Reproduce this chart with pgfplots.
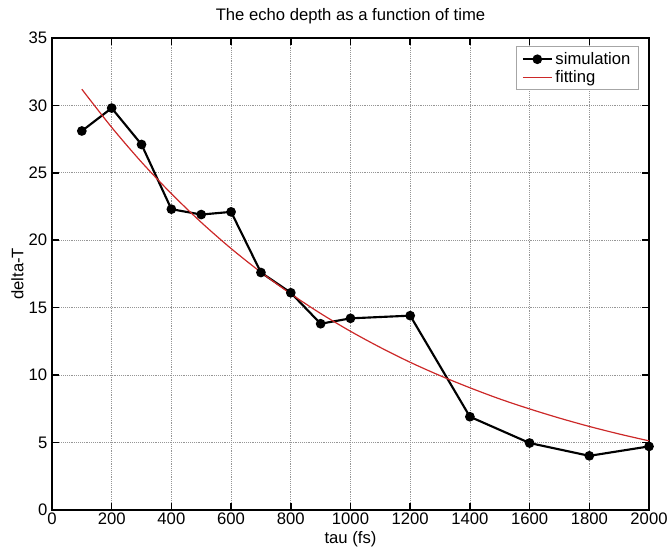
\documentclass[border=0pt]{standalone}
\usepackage{pgfplots}
\pgfplotsset{compat=1.18}
\usepackage{fontspec}
\setmainfont{Liberation Sans}

\definecolor{fitRed}{RGB}{204,40,40}
\definecolor{gridGray}{RGB}{150,150,150}

\begin{document}
\begin{tikzpicture}
% picture frame: 667 x 551 px at 0.75pt per px
\useasboundingbox (-39pt,-30.75pt) rectangle (461.5pt,382.5pt);

\begin{axis}[
    at={(0pt,0pt)}, anchor=south west,
    scale only axis,
    width=448pt, height=354pt,
    xmin=0, xmax=2000,
    ymin=0, ymax=35,
    xtick={0,200,...,2000},
    ytick={0,5,...,35},
    font=\fontsize{12.5}{14}\selectfont,
    /pgf/number format/assume math mode=true,
    /pgf/number format/1000 sep={},
    title={The echo depth as a function of time},
    title style={yshift=1pt},
    xlabel={tau (fs)},
    ylabel={delta-T},
    xlabel style={yshift=2pt},
    ylabel style={yshift=-3pt},
    axis line style={line width=1.5pt, black},
    tick align=inside,
    tick style={line width=1.2pt, black},
    major tick length=5pt,
    xticklabel style={yshift=1pt},
    grid=major,
    grid style={densely dotted, gridGray, line width=0.5pt},
    legend style={
        at={(0.983,0.982)}, anchor=north east,
        draw=gray!70, line width=0.6pt,
        font=\fontsize{12.5}{14}\selectfont,
        cells={anchor=west},
        row sep=-1pt,
        inner xsep=4pt,
    },
    legend image code/.code={
        \draw[mark repeat=2, mark phase=2]
            plot coordinates {(0cm,0cm) (0.38cm,0cm) (0.76cm,0cm)};
    },
    legend cell align=left,
]

% simulation
\addplot[black, line width=1.6pt, mark=*, mark size=2.8pt] coordinates {
    (100,28.1) (200,29.8) (300,27.1) (400,22.3) (500,21.9) (600,22.1)
    (700,17.6) (800,16.1) (900,13.8) (1000,14.2) (1200,14.4)
    (1400,6.9) (1600,4.95) (1800,4.0) (2000,4.7)
};
\addlegendentry{simulation}

% fitting
\addplot[fitRed, line width=0.9pt, smooth] coordinates {
    (100,31.2) (200,28.37) (300,25.79) (400,23.45) (500,21.32) (600,19.38)
    (700,17.62) (800,16.02) (900,14.56) (1000,13.24) (1100,12.04)
    (1200,10.94) (1300,9.95) (1400,9.05) (1500,8.22) (1600,7.48)
    (1700,6.80) (1800,6.18) (1900,5.62) (2000,5.11)
};
\addlegendentry{fitting}

\end{axis}
\end{tikzpicture}
\end{document}
